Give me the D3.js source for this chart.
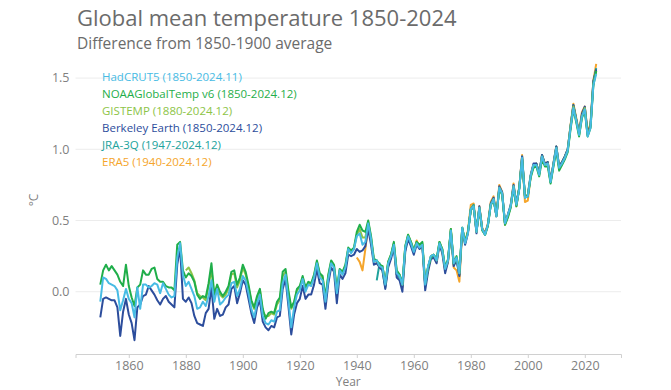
<!DOCTYPE html>
<html>
<head>
<meta charset="utf-8">
<script src="https://cdn.jsdelivr.net/npm/d3@7"></script>
<style>
    body { margin: 0; background: #ffffff; }
    svg { display: block; font-family: "Open Sans", sans-serif; }
</style>
</head>
<body>
<svg id="chart" width="671" height="390"></svg>
<script>
// annual anomalies, degC, relative to 1850-1900
const hadcrut5Start = 1850;
const hadcrut5 = [
    -0.07, 0.10, 0.09, 0.06, 0.05, 0.04, 0.01, -0.13, -0.06, 0.02,
    -0.05, -0.08, -0.18, 0.03, -0.12, 0.05, 0.05, 0.03, 0.04, 0.06,
    0.05, -0.01, 0.06, 0.02, -0.02, -0.04, -0.03, 0.24, 0.34, 0.12,
    0.04, 0.07, 0.02, -0.03, -0.12, -0.11, -0.07, -0.10, -0.03, 0.08,
    -0.07, 0.02, -0.09, -0.07, -0.04, -0.02, 0.06, 0.07, -0.03, 0.02,
    0.11, 0.08, -0.01, -0.12, -0.18, -0.08, -0.02, -0.17, -0.22, -0.23,
    -0.20, -0.21, -0.14, -0.13, 0.06, 0.12, -0.06, -0.25, -0.11, -0.02,
    0.01, 0.09, 0.00, 0.05, 0.04, 0.10, 0.20, 0.10, 0.08, -0.07,
    0.09, 0.20, 0.17, -0.01, 0.15, 0.12, 0.17, 0.30, 0.27, 0.30,
    0.39, 0.41, 0.33, 0.35, 0.48, 0.37, 0.21, 0.22, 0.18, 0.17,
    0.05, 0.20, 0.25, 0.33, 0.13, 0.11, 0.05, 0.31, 0.39, 0.34,
    0.28, 0.34, 0.31, 0.33, 0.05, 0.18, 0.25, 0.26, 0.22, 0.34,
    0.29, 0.16, 0.22, 0.43, 0.20, 0.24, 0.13, 0.45, 0.34, 0.41,
    0.58, 0.60, 0.42, 0.59, 0.44, 0.40, 0.47, 0.61, 0.65, 0.53,
    0.73, 0.69, 0.48, 0.54, 0.60, 0.74, 0.61, 0.72, 0.94, 0.66,
    0.67, 0.81, 0.89, 0.89, 0.82, 0.95, 0.89, 0.90, 0.77, 0.89,
    1.01, 0.87, 0.90, 0.94, 0.99, 1.15, 1.29, 1.20, 1.10, 1.23,
    1.28, 1.09, 1.15, 1.45, 1.53
];

const noaaStart = 1850;
const noaa = [
    0.05, 0.15, 0.19, 0.15, 0.18, 0.15, 0.12, 0.07, 0.04, 0.19,
    0.04, -0.04, -0.10, 0.03, 0.05, 0.15, 0.12, 0.12, 0.16, 0.17,
    0.09, 0.07, 0.07, 0.04, 0.03, 0.03, 0.01, 0.33, 0.35, 0.15,
    0.10, 0.13, 0.11, 0.07, -0.02, -0.05, -0.03, -0.04, 0.06, 0.20,
    -0.02, 0.05, 0.00, -0.03, 0.00, 0.04, 0.14, 0.15, 0.05, 0.10,
    0.19, 0.14, 0.05, -0.06, -0.11, -0.03, 0.02, -0.12, -0.19, -0.15,
    -0.14, -0.15, -0.07, -0.04, 0.14, 0.16, 0.01, -0.11, -0.07, 0.02,
    0.04, 0.11, 0.03, 0.07, 0.06, 0.12, 0.22, 0.13, 0.11, -0.04,
    0.12, 0.22, 0.19, 0.02, 0.16, 0.14, 0.19, 0.31, 0.29, 0.31,
    0.42, 0.47, 0.43, 0.42, 0.50, 0.39, 0.23, 0.22, 0.19, 0.18,
    0.06, 0.21, 0.26, 0.35, 0.15, 0.12, 0.06, 0.32, 0.40, 0.35,
    0.29, 0.35, 0.33, 0.35, 0.06, 0.17, 0.24, 0.26, 0.23, 0.35,
    0.30, 0.17, 0.23, 0.44, 0.20, 0.25, 0.14, 0.45, 0.35, 0.42,
    0.57, 0.60, 0.43, 0.58, 0.43, 0.40, 0.46, 0.61, 0.64, 0.54,
    0.72, 0.68, 0.47, 0.52, 0.59, 0.73, 0.60, 0.73, 0.93, 0.67,
    0.67, 0.80, 0.87, 0.88, 0.81, 0.93, 0.88, 0.88, 0.76, 0.88,
    0.99, 0.85, 0.89, 0.93, 0.98, 1.14, 1.28, 1.19, 1.09, 1.22,
    1.27, 1.09, 1.15, 1.45, 1.55
];

const gistempStart = 1880;
const gistemp = [
    0.15, 0.17, 0.13, 0.08, -0.01, -0.03, -0.04, -0.06, 0.04, 0.16,
    -0.04, 0.03, -0.02, -0.04, -0.02, 0.02, 0.12, 0.13, 0.03, 0.08,
    0.17, 0.12, 0.03, -0.07, -0.12, -0.05, 0.01, -0.14, -0.17, -0.17,
    -0.15, -0.16, -0.09, -0.06, 0.11, 0.14, -0.01, -0.12, -0.08, 0.01,
    0.03, 0.10, 0.02, 0.06, 0.05, 0.11, 0.21, 0.12, 0.10, -0.05,
    0.11, 0.21, 0.18, 0.01, 0.15, 0.13, 0.18, 0.30, 0.28, 0.30,
    0.40, 0.44, 0.38, 0.38, 0.49, 0.38, 0.22, 0.22, 0.18, 0.18,
    0.06, 0.21, 0.26, 0.34, 0.14, 0.12, 0.05, 0.32, 0.40, 0.35,
    0.29, 0.35, 0.32, 0.34, 0.06, 0.17, 0.25, 0.26, 0.22, 0.35,
    0.30, 0.17, 0.22, 0.44, 0.20, 0.24, 0.13, 0.45, 0.35, 0.42,
    0.58, 0.60, 0.42, 0.59, 0.44, 0.40, 0.47, 0.61, 0.65, 0.53,
    0.73, 0.69, 0.48, 0.53, 0.60, 0.74, 0.61, 0.73, 0.93, 0.67,
    0.68, 0.81, 0.89, 0.89, 0.82, 0.95, 0.89, 0.90, 0.77, 0.89,
    1.01, 0.87, 0.90, 0.94, 0.99, 1.16, 1.30, 1.20, 1.10, 1.23,
    1.29, 1.10, 1.16, 1.46, 1.55
];

const berkeleyStart = 1850;
const berkeley = [
    -0.18, -0.05, -0.04, -0.05, -0.06, -0.06, -0.11, -0.31, -0.14, -0.05,
    -0.16, -0.22, -0.34, -0.11, -0.09, -0.03, -0.02, 0.04, 0.01, -0.02,
    -0.06, -0.09, -0.05, -0.03, -0.07, -0.09, -0.11, 0.19, 0.31, -0.05,
    -0.07, -0.04, -0.08, -0.17, -0.22, -0.23, -0.24, -0.15, -0.12, 0.03,
    -0.19, -0.12, -0.17, -0.16, -0.11, -0.09, 0.02, 0.04, -0.08, -0.01,
    0.08, 0.05, -0.05, -0.15, -0.22, -0.11, -0.06, -0.21, -0.25, -0.27,
    -0.24, -0.25, -0.18, -0.17, 0.02, 0.09, -0.10, -0.30, -0.16, -0.08,
    -0.05, 0.04, -0.05, -0.02, -0.02, 0.05, 0.16, 0.06, 0.05, -0.12,
    0.06, 0.17, 0.14, -0.08, 0.12, 0.09, 0.13, 0.26, 0.25, 0.26,
    0.30, 0.28, 0.29, 0.32, 0.44, 0.33, 0.19, 0.20, 0.17, 0.15,
    0.02, 0.17, 0.23, 0.31, 0.10, 0.08, 0.00, 0.28, 0.37, 0.32,
    0.26, 0.33, 0.30, 0.32, 0.01, 0.14, 0.23, 0.24, 0.20, 0.33,
    0.27, 0.13, 0.21, 0.42, 0.18, 0.22, 0.11, 0.44, 0.33, 0.41,
    0.58, 0.60, 0.41, 0.60, 0.44, 0.41, 0.47, 0.62, 0.66, 0.53,
    0.74, 0.70, 0.48, 0.54, 0.61, 0.75, 0.62, 0.73, 0.95, 0.67,
    0.68, 0.82, 0.90, 0.90, 0.83, 0.96, 0.90, 0.91, 0.78, 0.90,
    1.02, 0.88, 0.91, 0.95, 1.00, 1.16, 1.31, 1.21, 1.11, 1.25,
    1.30, 1.11, 1.17, 1.48, 1.56
];

const jra3qStart = 1947;
const jra3q = [
    0.08, 0.20, 0.15,
    0.03, 0.19, 0.25, 0.33, 0.12, 0.10, 0.04, 0.30, 0.39, 0.34,
    0.28, 0.34, 0.31, 0.33, 0.04, 0.17, 0.25, 0.26, 0.22, 0.34,
    0.29, 0.16, 0.22, 0.43, 0.19, 0.23, 0.12, 0.45, 0.34, 0.42,
    0.58, 0.61, 0.42, 0.59, 0.44, 0.40, 0.47, 0.61, 0.65, 0.53,
    0.73, 0.69, 0.48, 0.54, 0.60, 0.74, 0.61, 0.72, 0.95, 0.66,
    0.67, 0.81, 0.89, 0.90, 0.83, 0.96, 0.89, 0.91, 0.77, 0.90,
    1.02, 0.88, 0.91, 0.95, 1.00, 1.16, 1.31, 1.21, 1.11, 1.24,
    1.29, 1.10, 1.16, 1.47, 1.57
];

const era5Start = 1940;
const era5 = [
    0.24, 0.21, 0.15, 0.30, 0.46, 0.36, 0.22, 0.21, 0.18, 0.17,
    0.04, 0.20, 0.25, 0.33, 0.12, 0.10, 0.03, 0.30, 0.39, 0.34,
    0.28, 0.36, 0.31, 0.33, 0.05, 0.17, 0.25, 0.26, 0.21, 0.34,
    0.28, 0.15, 0.21, 0.44, 0.17, 0.15, 0.07, 0.44, 0.35, 0.43,
    0.61, 0.62, 0.42, 0.60, 0.45, 0.41, 0.48, 0.63, 0.67, 0.54,
    0.75, 0.70, 0.47, 0.53, 0.60, 0.76, 0.60, 0.73, 0.96, 0.63,
    0.64, 0.81, 0.89, 0.90, 0.83, 0.96, 0.90, 0.91, 0.77, 0.90,
    1.02, 0.87, 0.91, 0.95, 1.00, 1.17, 1.32, 1.22, 1.12, 1.26,
    1.30, 1.12, 1.18, 1.48, 1.60
];

const seriesNames = ['HadCRUT5', 'NOAAGlobalTemp v6', 'GISTEMP', 'Berkeley Earth', 'JRA-3Q', 'ERA5'];
const seriesLabels = [
    'HadCRUT5 (1850-2024.11)',
    'NOAAGlobalTemp v6 (1850-2024.12)',
    'GISTEMP (1880-2024.12)',
    'Berkeley Earth (1850-2024.12)',
    'JRA-3Q (1947-2024.12)',
    'ERA5 (1940-2024.12)'
];
const seriesColors = ['#47bbe4', '#1fae4a', '#8dc447', '#2c4d9c', '#20a29c', '#f5a52b'];
const xTicks = [1860, 1880, 1900, 1920, 1940, 1960, 1980, 2000, 2020];
const yTicks = [0.0, 0.5, 1.0, 1.5];

var series = [
    { values: hadcrut5, start: hadcrut5Start },
    { values: noaa, start: noaaStart },
    { values: gistemp, start: gistempStart },
    { values: berkeley, start: berkeleyStart },
    { values: jra3q, start: jra3qStart },
    { values: era5, start: era5Start }
].map(function(s, i) {
    return {
        name: seriesNames[i],
        label: seriesLabels[i],
        color: seriesColors[i],
        points: s.values.map(function(v, j) { return { year: s.start + j, value: v }; })
    };
});

var svg = d3.select('#chart');

var margin = { top: 50, right: 50, bottom: 36, left: 75.5 },
    width = 671 - margin.left - margin.right,
    height = 390 - margin.top - margin.bottom;

// 5% padding round the data on both axes
var allPoints = series.flatMap(function(s) { return s.points; });
var yearExt = d3.extent(allPoints, function(d) { return d.year; });
var valExt = d3.extent(allPoints, function(d) { return d.value; });
var yearPad = (yearExt[1] - yearExt[0]) * 0.05;
var valPad = (valExt[1] - valExt[0]) * 0.05;

var x = d3.scaleLinear()
    .domain([yearExt[0] - yearPad, yearExt[1] + yearPad])
    .range([0, width]);

var y = d3.scaleLinear()
    .domain([valExt[0] - valPad, valExt[1] + valPad])
    .range([height, 0]);

// titles
svg.append('text')
    .attr('x', 77)
    .attr('y', 26)
    .attr('font-size', 22)
    .attr('fill', '#6b6b6b')
    .text('Global mean temperature 1850-2024');

svg.append('text')
    .attr('x', 77)
    .attr('y', 49)
    .attr('font-size', 15.5)
    .attr('fill', '#6b6b6b')
    .text('Difference from 1850-1900 average');

var g = svg.append('g')
    .attr('transform', 'translate(' + margin.left + ',' + margin.top + ')');

// gridlines
g.append('g')
    .selectAll('line')
    .data(yTicks)
    .enter()
    .append('line')
        .attr('x1', 0)
        .attr('x2', width)
        .attr('y1', function(d) { return y(d); })
        .attr('y2', function(d) { return y(d); })
        .attr('stroke', '#ececec')
        .attr('stroke-width', 1);

// y labels
g.append('g')
    .selectAll('text')
    .data(yTicks)
    .enter()
    .append('text')
        .attr('x', -6)
        .attr('y', function(d) { return y(d); })
        .attr('dy', '0.35em')
        .attr('text-anchor', 'end')
        .attr('font-size', 12.5)
        .attr('fill', '#808080')
        .text(function(d) { return d3.format('.1f')(d); });

svg.append('text')
    .attr('transform', 'translate(38,200) rotate(-90)')
    .attr('text-anchor', 'middle')
    .attr('font-size', 12)
    .attr('fill', '#808080')
    .text('°C');

// x axis
var xAxis = g.append('g')
    .attr('transform', 'translate(0,' + height + ')')
    .call(d3.axisBottom(x).tickValues(xTicks).tickFormat(d3.format('d')).tickSize(4).tickPadding(3));

xAxis.select('.domain').attr('stroke', '#d0d0d0');
xAxis.selectAll('.tick line').attr('stroke', '#d0d0d0');
xAxis.selectAll('.tick text')
    .attr('font-family', '"Open Sans", sans-serif')
    .attr('font-size', 12.5)
    .attr('fill', '#808080');

g.append('text')
    .attr('x', width / 2)
    .attr('y', height + 32)
    .attr('text-anchor', 'middle')
    .attr('font-size', 12)
    .attr('fill', '#808080')
    .text('Year');

// lines, last in legend drawn first
var line = d3.line()
    .x(function(d) { return x(d.year); })
    .y(function(d) { return y(d.value); });

g.append('g')
    .selectAll('path')
    .data(series.slice().reverse())
    .enter()
    .append('path')
        .attr('d', function(d) { return line(d.points); })
        .attr('fill', 'none')
        .attr('stroke', function(d) { return d.color; })
        .attr('stroke-width', 2)
        .attr('stroke-linejoin', 'round');

// legend
svg.append('g')
    .selectAll('text')
    .data(series)
    .enter()
    .append('text')
        .attr('x', 102)
        .attr('y', function(d, i) { return 77 + i * 17; })
        .attr('dy', '0.35em')
        .attr('font-size', 11.5)
        .attr('fill', function(d) { return d.color; })
        .text(function(d) { return d.label; });
</script>
</body>
</html>
